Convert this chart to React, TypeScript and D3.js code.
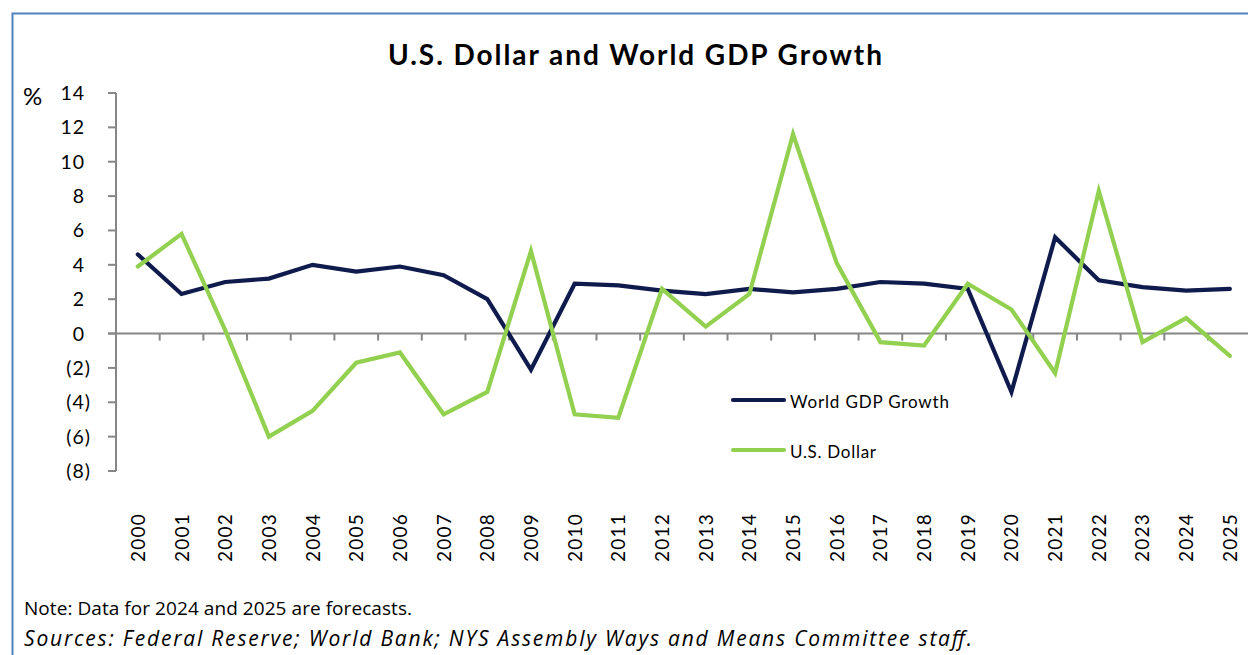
import React, { useEffect, useRef } from "react";
import * as d3 from "d3";

const years = d3.range(2000, 2026).map(String);
// World GDP growth, %
const gdpGrowth = [
  4.6, 2.3, 3.0, 3.2, 4.0, 3.6, 3.9, 3.4, 2.0, -2.1, 2.9, 2.8, 2.5,
  2.3, 2.6, 2.4, 2.6, 3.0, 2.9, 2.6, -3.4, 5.6, 3.1, 2.7, 2.5, 2.6,
];
// U.S. Dollar, % change
const usDollar = [
  3.9, 5.8, 0.2, -6.0, -4.5, -1.7, -1.1, -4.7, -3.4, 4.8, -4.7, -4.9, 2.6,
  0.4, 2.3, 11.6, 4.1, -0.5, -0.7, 2.9, 1.4, -2.3, 8.3, -0.5, 0.9, -1.3,
];
const yTicks = d3.range(-8, 15, 2);

const seriesList = [
  { name: "World GDP Growth", values: gdpGrowth, color: "#0f1a4d" },
  { name: "U.S. Dollar", values: usDollar, color: "#92d050" },
];

const FONT = "Lato, 'Open Sans', sans-serif";
const NOTE_FONT = "'Open Sans', Lato, sans-serif";

const App = () => {
  const ref = useRef<SVGSVGElement>(null);

  useEffect(() => {
    const width = 1248;
    const height = 655;
    const svg = d3.select(ref.current);
    svg.selectAll("*").remove();

    svg.attr("width", width).attr("height", height);

    // outer frame
    svg
      .append("rect")
      .attr("x", 12.5)
      .attr("y", 13.5)
      .attr("width", 1260)
      .attr("height", 680)
      .attr("fill", "white")
      .attr("stroke", "#4f81bd")
      .attr("stroke-width", 2);

    const x = d3
      .scaleBand()
      .domain(years)
      .range([116, 116 + 26 * 43.68]);

    const y = d3.scaleLinear().domain([-8, 14]).range([471, 93]);

    const cx = (i: number) => (x(years[i]) as number) + x.bandwidth() / 2;

    // y axis
    const yAxis = svg.append("g").attr("transform", "translate(116,0)");
    yAxis
      .append("line")
      .attr("y1", y(14))
      .attr("y2", y(-8))
      .attr("stroke", "#868686")
      .attr("stroke-width", 2);
    yAxis
      .selectAll("line.tick")
      .data(yTicks)
      .join("line")
      .attr("class", "tick")
      .attr("x1", -8)
      .attr("x2", 0)
      .attr("y1", d => y(d))
      .attr("y2", d => y(d))
      .attr("stroke", "#868686")
      .attr("stroke-width", 2);
    yAxis
      .selectAll("text")
      .data(yTicks)
      .join("text")
      .attr("x", d => (d < 0 ? -25 : -31))
      .attr("y", d => y(d) + 7)
      .attr("text-anchor", "end")
      .attr("font-family", FONT)
      .attr("font-size", 19.5)
      .attr("letter-spacing", 1)
      .attr("fill", "#000")
      .text(d => (d < 0 ? `(${Math.abs(d)})` : `${d}`));

    svg
      .append("text")
      .attr("x", 23)
      .attr("y", 105)
      .attr("font-family", FONT)
      .attr("font-size", 24)
      .text("%");

    // x axis at zero
    const xAxis = svg.append("g").attr("transform", `translate(0,${y(0)})`);
    xAxis
      .append("line")
      .attr("x1", 108)
      .attr("x2", width)
      .attr("stroke", "#868686")
      .attr("stroke-width", 2);
    xAxis
      .selectAll("line.tick")
      .data(years.slice(1))
      .join("line")
      .attr("class", "tick")
      .attr("x1", d => x(d) as number)
      .attr("x2", d => x(d) as number)
      .attr("y1", 0)
      .attr("y2", 7)
      .attr("stroke", "#868686")
      .attr("stroke-width", 2);

    // year labels, rotated
    svg
      .append("g")
      .selectAll("text")
      .data(years)
      .join("text")
      .attr("transform", (d, i) => `translate(${cx(i) + 7},513) rotate(-90)`)
      .attr("text-anchor", "end")
      .attr("font-family", FONT)
      .attr("font-size", 19)
      .attr("letter-spacing", 1.2)
      .text(d => d);

    // lines
    const line = d3
      .line<number>()
      .x((d, i) => cx(i))
      .y(d => y(d));

    svg
      .append("g")
      .selectAll("path")
      .data(seriesList)
      .join("path")
      .attr("d", d => line(d.values))
      .attr("fill", "none")
      .attr("stroke", d => d.color)
      .attr("stroke-width", 4.2)
      .attr("stroke-linejoin", "miter")
      .attr("stroke-linecap", "round");

    // legend
    const legend = svg
      .append("g")
      .selectAll("g")
      .data(seriesList)
      .join("g")
      .attr("transform", (d, i) => `translate(733,${400 + i * 50})`);
    legend
      .append("line")
      .attr("x1", 0)
      .attr("x2", 51)
      .attr("stroke", d => d.color)
      .attr("stroke-width", 4.2)
      .attr("stroke-linecap", "round");
    legend
      .append("text")
      .attr("x", 57)
      .attr("y", 8)
      .attr("font-family", FONT)
      .attr("font-size", 17)
      .attr("textLength", d => (d.name === "U.S. Dollar" ? 86 : 159))
      .attr("lengthAdjust", "spacing")
      .text(d => d.name);

    // title
    svg
      .append("text")
      .attr("x", 388)
      .attr("y", 65)
      .attr("font-family", FONT)
      .attr("font-size", 28)
      .attr("font-weight", "bold")
      .attr("textLength", 494)
      .attr("lengthAdjust", "spacing")
      .text("U.S. Dollar and World GDP Growth");

    // notes
    svg
      .append("text")
      .attr("x", 24)
      .attr("y", 615)
      .attr("font-family", NOTE_FONT)
      .attr("font-size", 19)
      .attr("textLength", 388)
      .attr("lengthAdjust", "spacing")
      .text("Note: Data for 2024 and 2025 are forecasts.");
    svg
      .append("text")
      .attr("x", 24)
      .attr("y", 646)
      .attr("font-family", NOTE_FONT)
      .attr("font-size", 21)
      .attr("font-style", "italic")
      .attr("textLength", 948)
      .attr("lengthAdjust", "spacing")
      .text(
        "Sources: Federal Reserve; World Bank; NYS Assembly Ways and Means Committee staff."
      );
  }, []);

  return (
    <svg
      ref={ref}
      style={{ position: "absolute", left: 0, top: 0, display: "block" }}
    />
  );
};

export default App;
